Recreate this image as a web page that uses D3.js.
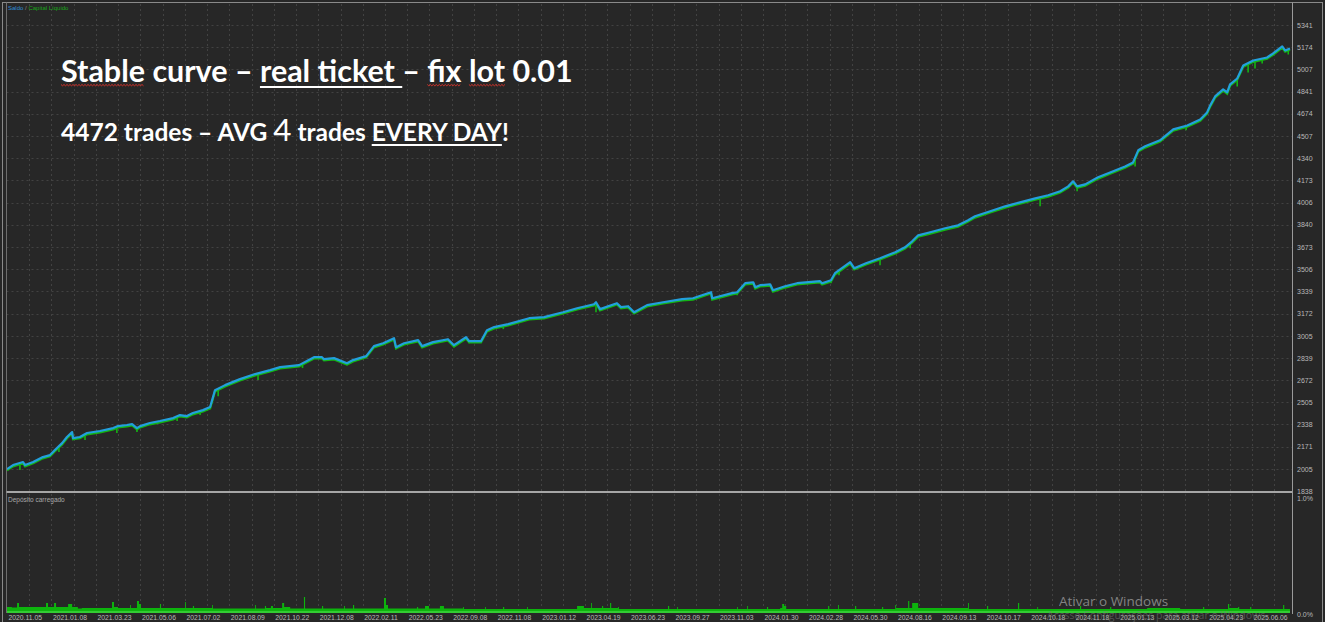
<!DOCTYPE html>
<html><head><meta charset="utf-8">
<script src="https://cdn.jsdelivr.net/npm/d3@7"></script>
<style>html,body{margin:0;padding:0;background:#272727;overflow:hidden}</style>
</head><body><svg id="c" width="1325" height="622"></svg>
<script>
// ---------- DATA ----------
const balanceTrade = [0,21,56,63,91,125,150,167,192,209,227,230,254,279,324,370,387,418,436,453,464,498,533,579,603,627,648,683,708,715,725,760,812,865,917,952,1018,1070,1098,1105,1140,1185,1206,1252,1279,1311,1349,1356,1384,1433,1447,1485,1537,1558,1600,1611,1652,1673,1698,1747,1820,1872,1938,1987,2046,2053,2067,2126,2140,2165,2186,2231,2287,2353,2391,2433,2454,2458,2527,2545,2573,2601,2608,2625,2660,2670,2712,2754,2834,2841,2872,2886,2939,2953,2994,3043,3096,3130,3155,3176,3218,3270,3315,3350,3374,3427,3479,3531,3584,3629,3671,3699,3716,3730,3758,3803,3845,3897,3925,3943,3967,4019,4065,4114,4159,4183,4194,4211,4239,4253,4263,4288,4309,4344,4392,4413,4445,4455,4472];
const balanceValue = [2003,2033,2056,2033,2056,2093,2108,2146,2198,2244,2281,2236,2244,2274,2289,2311,2326,2334,2341,2311,2326,2349,2364,2386,2409,2401,2424,2446,2469,2521,2596,2634,2679,2717,2747,2769,2784,2844,2844,2829,2837,2799,2822,2852,2927,2949,2987,2919,2949,2972,2927,2957,2979,2934,2994,2964,2964,3047,3070,3092,3137,3145,3182,3212,3242,3257,3205,3250,3220,3227,3182,3235,3257,3280,3287,3317,3332,3287,3325,3332,3400,3407,3370,3385,3392,3347,3377,3400,3415,3400,3422,3475,3558,3513,3550,3588,3633,3670,3715,3760,3783,3813,3835,3873,3903,3941,3978,4008,4038,4061,4091,4128,4166,4128,4143,4196,4233,4278,4308,4399,4429,4474,4556,4586,4631,4684,4737,4804,4857,4834,4894,4939,5037,5074,5097,5127,5180,5150,5165];
// equity drawdown lows (Capital Líquido dips below balance)
const equityDipTrade = [45,181,272,383,453,593,673,736,875,1030,1185,1356,1558,1611,1730,2053,2186,2545,2872,2900,3043,3148,3601,3730,3932,4110,4288,4326,4350,4375,4466];
const equityDipValue = [1996,2131,2221,2274,2281,2364,2409,2551,2672,2762,2784,2904,2920,2949,3055,3182,3175,3310,3400,3460,3535,3663,3978,4091,4278,4549,4879,4984,5014,5052,5119];
// deposit load (%), step series
const loadTrade = [0,17,35,42,136,143,164,171,213,227,247,261,366,373,387,429,432,453,460,467,533,537,621,624,648,652,715,718,865,868,899,903,920,927,959,966,987,1035,1039,1098,1102,1175,1178,1206,1210,1314,1321,1328,1429,1433,1457,1471,1509,1523,1590,1593,1666,1669,1729,1733,1813,1816,1987,2011,2036,2039,2074,2078,2102,2106,2130,2133,2304,2308,2336,2339,2545,2548,2580,2583,2649,2653,2695,2702,2709,2716,2862,2866,2897,2900,2956,2960,3050,3054,3096,3099,3141,3145,3155,3176,3350,3353,3416,3420,3524,3528,3591,3594,3740,3744,3845,3849,3974,4089,4169,4173,4256,4260,4291,4295,4333,4337,4448,4452,4472];
const loadValue = [0.05,0.045,0.083,0.05,0.083,0.05,0.083,0.05,0.075,0.05,0.038,0.042,0.092,0.05,0.042,0.067,0.042,0.1,0.075,0.042,0.075,0.042,0.092,0.042,0.058,0.042,0.067,0.038,0.067,0.038,0.058,0.042,0.058,0.042,0.083,0.05,0.038,0.133,0.038,0.058,0.038,0.058,0.038,0.067,0.038,0.125,0.067,0.038,0.05,0.038,0.058,0.038,0.058,0.038,0.05,0.033,0.05,0.033,0.05,0.033,0.05,0.033,0.058,0.042,0.083,0.042,0.058,0.042,0.083,0.042,0.05,0.033,0.058,0.033,0.05,0.033,0.05,0.033,0.058,0.033,0.05,0.033,0.042,0.075,0.058,0.033,0.058,0.033,0.067,0.033,0.058,0.033,0.05,0.033,0.067,0.042,0.1,0.042,0.083,0.042,0.083,0.033,0.058,0.033,0.083,0.033,0.05,0.033,0.058,0.033,0.05,0.033,0.042,0.033,0.05,0.033,0.075,0.042,0.05,0.033,0.05,0.033,0.067,0.033,0.033];
const yTickValues = [1838,2005,2171,2338,2505,2672,2839,3005,3172,3339,3506,3673,3840,4006,4173,4340,4507,4674,4841,5007,5174,5341];
const xTickLabels = ["2020.11.05","2021.01.08","2021.03.23","2021.05.06","2021.07.02","2021.08.09","2021.10.22","2021.12.08","2022.02.11","2022.05.23","2022.09.08","2022.11.08","2023.01.12","2023.04.19","2023.06.23","2023.09.27","2023.11.03","2024.01.30","2024.02.28","2024.05.30","2024.08.16","2024.09.13","2024.10.17","2024.10.18","2024.11.18","2025.01.13","2025.03.12","2025.04.23","2025.06.06"];
const loadTickValues = [0,1];
const loadTickLabels = ["0.0%","1.0%"];

// ---------- LAYOUT ----------
const W=1325,H=622;
const L=6.5, R=1292, T1=4, B1=491, T2=493, B2=613;
const BG='#272727', GRID='#424242', FRAME='#9a9a9a', LABEL='#b9b9b9';
const BLUE='#22a0dc', GREEN='#14b414';

const svg=d3.select('#c');
svg.append('rect').attr('width',W).attr('height',H).attr('fill',BG);

const x=d3.scaleLinear().domain([0,4472]).range([7,1290]);
const y=d3.scaleLinear().domain([1838,5341]).range([491,25]);
const yl=d3.scaleLinear().domain([0,1]).range([B2,T2+0.5]);

// grid
const xGridStep=77.5;
const xGrid=d3.range(0,4472,xGridStep).slice(1);
svg.append('g').selectAll('line').data(xGrid).join('line')
  .attr('x1',d=>Math.round(x(d))+0.5).attr('x2',d=>Math.round(x(d))+0.5)
  .attr('y1',T1).attr('y2',B2)
  .attr('stroke',GRID).attr('stroke-width',1).attr('stroke-dasharray','2,3');
svg.append('g').selectAll('line').data(yTickValues.slice(1)).join('line')
  .attr('x1',L).attr('x2',R)
  .attr('y1',d=>Math.round(y(d))+0.5).attr('y2',d=>Math.round(y(d))+0.5)
  .attr('stroke',GRID).attr('stroke-width',1).attr('stroke-dasharray','2,3');

// clip top pane
svg.append('clipPath').attr('id','top').append('rect').attr('x',L).attr('y',T1).attr('width',R-L).attr('height',B1-T1);

const bal=balanceTrade.map((t,i)=>[t,balanceValue[i]]);
const line=d3.line().x(d=>x(d[0])).y(d=>y(d[1]));
const gTop=svg.append('g').attr('clip-path','url(#top)');

// equity line (drawn under balance) + dips
gTop.append('path').datum(bal).attr('d',line).attr('fill','none')
  .attr('stroke',GREEN).attr('stroke-width',2.2).attr('transform','translate(0,1.3)');
function balAt(t){
  const i=d3.bisector(d=>d[0]).right(bal,t);
  if(i<=0) return bal[0][1];
  if(i>=bal.length) return bal[bal.length-1][1];
  const a=bal[i-1], b=bal[i];
  return a[1]+(b[1]-a[1])*(t-a[0])/(b[0]-a[0]);
}
gTop.append('g').selectAll('line').data(equityDipTrade.map((t,i)=>[t,equityDipValue[i]])).join('line')
  .attr('x1',d=>x(d[0])).attr('x2',d=>x(d[0]))
  .attr('y1',d=>y(balAt(d[0]))).attr('y2',d=>y(d[1]))
  .attr('stroke',GREEN).attr('stroke-width',1.6);
// balance line
gTop.append('path').datum(bal).attr('d',line).attr('fill','none')
  .attr('stroke',BLUE).attr('stroke-width',2.2).attr('stroke-linejoin','round');

// deposit load
const load=loadTrade.map((t,i)=>[t,loadValue[i]]);
svg.append('path').datum(load)
  .attr('d',d3.area().curve(d3.curveStepAfter).x(d=>x(d[0])).y0(yl(0)).y1(d=>yl(d[1])))
  .attr('fill','#0db40d');
svg.append('line').attr('x1',x(0)).attr('x2',x(4472)).attr('y1',B2-1).attr('y2',B2-1)
  .attr('stroke','#33cc33').attr('stroke-width',2);

// frames
const fr=svg.append('g').attr('stroke',FRAME).attr('fill','none');
fr.append('rect').attr('x',2.5).attr('y',2.5).attr('width',1320).attr('height',630).attr('stroke','#8a8a8a');
fr.append('line').attr('x1',L).attr('x2',L).attr('y1',2.5).attr('y2',B2).attr('stroke','#6e6e6e');
fr.append('line').attr('x1',R+0.5).attr('x2',R+0.5).attr('y1',2.5).attr('y2',B2+1);
fr.append('line').attr('x1',L).attr('x2',R).attr('y1',B1+1).attr('y2',B1+1).attr('stroke','#a6a6a6').attr('stroke-width',2);

// axes
const fontAx='"Liberation Sans", Arial, sans-serif';
const yAx=svg.append('g').attr('transform',`translate(${R},0)`)
  .call(d3.axisRight(y).tickValues(yTickValues).tickSize(0).tickPadding(5).tickFormat(d3.format('d')));
yAx.select('.domain').remove();
yAx.selectAll('text').attr('fill',LABEL).style('font-family',fontAx).style('font-size','7px');

const lAx=svg.append('g').attr('transform',`translate(${R},0)`)
  .call(d3.axisRight(yl).tickValues(loadTickValues).tickSize(0).tickPadding(5).tickFormat((d,i)=>loadTickLabels[i]));
lAx.select('.domain').remove();
lAx.selectAll('text').attr('fill',LABEL).style('font-family',fontAx).style('font-size','7px')
  .attr('dy',(d)=>d===1?'0.95em':'0.55em');

const xTickTrades=d3.range(xTickLabels.length).map(k=>k*155);
const xAx=svg.append('g').attr('transform',`translate(0,${B2})`)
  .call(d3.axisBottom(x).tickValues(xTickTrades).tickSize(0).tickPadding(2).tickFormat((d,i)=>xTickLabels[i]));
xAx.select('.domain').remove();
xAx.selectAll('text').attr('fill',LABEL).style('font-family',fontAx).style('font-size','6.8px')
  .attr('text-anchor','start').attr('dx','1');

// legends
const lg=svg.append('text').attr('x',8).attr('y',9.5).style('font-family',fontAx).style('font-size','6px');
lg.append('tspan').text('Saldo').attr('fill','#2f8fd8');
lg.append('tspan').text(' / ').attr('fill','#8a8a8a');
lg.append('tspan').text('Capital Líquido').attr('fill','#1aa31a');
svg.append('text').attr('x',8).attr('y',502).text('Depósito carregado')
  .style('font-family',fontAx).style('font-size','6.5px').attr('fill','#a8a8a8');

// ---------- Titles ----------
const titleFont='Lato, "Open Sans", sans-serif';
const t1str='Stable curve – real ticket – fix lot 0.01';
const t1=svg.append('text').attr('x',61).attr('y',82).text(t1str)
  .attr('fill','#ffffff').style('font-family',titleFont).style('font-weight',700).style('font-size','24px');
let w1=t1.node().getComputedTextLength();
t1.style('font-size',(24*512/w1)+'px');

const t2=svg.append('text').attr('x',61).attr('y',141)
  .attr('fill','#ffffff').style('font-family',titleFont).style('font-weight',700);
const parts=[['4472 trades – AVG ',18,700],['4',23,400],[' trades ',18,700],['EVERY DAY',18,700],['!',18,700]];
parts.forEach(p=>t2.append('tspan').text(p[0]).style('font-size',p[1]+'px').style('font-weight',p[2]));
let w2=t2.node().getComputedTextLength();
const k2=448/w2;
t2.selectAll('tspan').each(function(d,i){d3.select(this).style('font-size',(parts[i][1]*k2)+'px');});

function span(node,start,end){ // inclusive char indices
  return [node.getStartPositionOfChar(start).x,node.getEndPositionOfChar(end).x];
}
const n1=t1.node();
const ri=t1str.indexOf('real');
const u1=span(n1,ri,ri+11);
svg.append('line').attr('x1',u1[0]).attr('x2',u1[1]).attr('y1',87).attr('y2',87).attr('stroke','#fff').attr('stroke-width',2);
const t2str=parts.map(p=>p[0]).join('');
const ei=t2str.indexOf('EVERY');
const u2=span(t2.node(),ei,ei+8);
svg.append('line').attr('x1',u2[0]).attr('x2',u2[1]).attr('y1',145).attr('y2',145).attr('stroke','#fff').attr('stroke-width',1.8);

function squiggle(x0,x1,yy){
  let d=`M${x0},${yy}`; let up=true;
  for(let xx=x0+1.5;xx<=x1;xx+=1.5){ d+=`L${xx},${up?yy+1.3:yy}`; up=!up; }
  return d;
}
[['Stable',0],['fix',t1str.indexOf('fix')],['lot',t1str.indexOf('lot')]].forEach(([w,i])=>{
  const s=span(n1,i,i+w.length-1);
  svg.append('path').attr('d',squiggle(s[0],s[1],84.5)).attr('fill','none').attr('stroke','#e8322a').attr('stroke-width',0.9);
});

// watermark
svg.append('text').attr('x',1059).attr('y',606).text('Ativar o Windows')
  .style('font-family','"Open Sans", sans-serif').style('font-size','13.5px').attr('fill','#8e8e8e').attr('opacity',0.9);
svg.append('text').attr('x',1047).attr('y',619).text('Acesse Configurações para ativar o Windows.')
  .style('font-family','"Open Sans", sans-serif').style('font-size','10.5px').attr('fill','#7a7a7a').attr('opacity',0.55);
</script></body></html>
